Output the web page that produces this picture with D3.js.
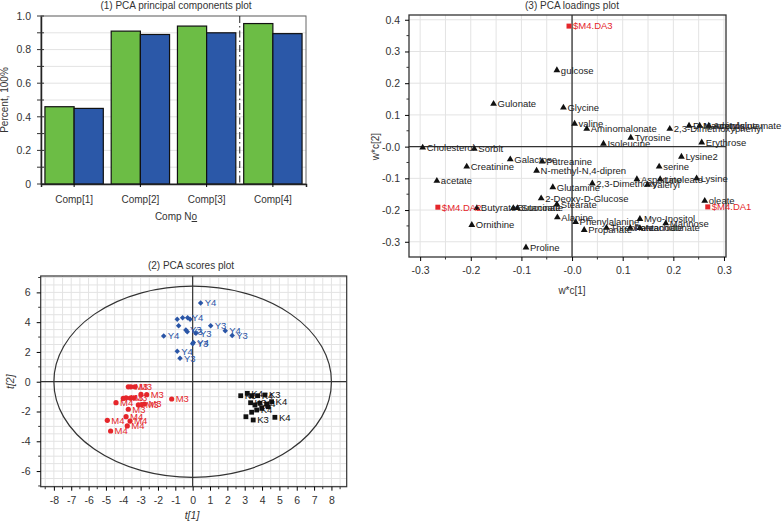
<!DOCTYPE html>
<html><head><meta charset="utf-8">
<script src="https://cdn.jsdelivr.net/npm/d3@7"></script>
<style>
body{margin:0;background:#fff;}
svg{display:block;font-family:"Liberation Sans",Arial,sans-serif;}
</style></head>
<body><svg id="c" width="784" height="522"></svg>
<script>
// ---------- Panel 1 data ----------
const pcCategories = ["Comp[1]","Comp[2]","Comp[3]","Comp[4]"];
const r2xCum = [0.46, 0.91, 0.94, 0.955];
const q2Cum  = [0.45, 0.89, 0.90, 0.895];
const pcYTicks = [0,0.2,0.4,0.6,0.8,1.0];

// ---------- Panel 2 data (scores) ----------
const yT1 = [0.46,-0.89,-0.58,-0.29,-0.15,-0.81,-0.39,-0.31,0.19,1.04,1.88,2.28,-1.67,0.04,0.0,-0.89,-0.73];
const yT2 = [5.28,4.19,4.30,4.30,4.20,3.76,3.47,3.36,3.25,3.76,3.42,3.11,3.07,2.64,2.55,2.04,1.57];
const yLab = ["Y4","","","Y4","","","Y3","Y3","Y3","Y3","Y4","Y3","Y4","Y4","Y3","Y4","Y3"];
const mT1 = [-3.71,-3.56,-3.33,-2.65,-2.98,-1.21,-4.0,-3.84,-3.6,-3.4,-4.42,-3.71,-3.13,-2.94,-2.78,-3.84,-3.61,-4.92,-3.77,-4.73];
const mT2 = [-0.34,-0.34,-0.34,-0.87,-0.85,-1.16,-1.12,-1.08,-1.10,-1.08,-1.41,-1.85,-1.56,-1.53,-1.50,-2.35,-2.64,-2.59,-2.97,-3.31];
const mLab = ["","M3","M3","M3","","M3","","M3","M3","","M4","M3","","M3","M3","M4","M4","M4","M4","M4"];
const kT1 = [3.15,2.77,3.40,3.75,4.17,3.34,3.59,3.88,4.27,4.55,3.69,3.40,3.07,3.49,4.74,3.98,4.36];
const kT2 = [-0.78,-0.94,-0.94,-0.94,-0.89,-1.41,-1.56,-1.45,-1.50,-1.34,-1.90,-2.05,-2.35,-2.57,-2.39,-1.79,-1.68];
const kLab = ["K4","K3","","K4","K3","K3","","K4","","K4","K4","","","K3","K4","",""];
const scoreXTicks = [-8,-7,-6,-5,-4,-3,-2,-1,0,1,2,3,4,5,6,7,8];
const scoreYTicks = [-6,-4,-2,0,2,4,6];

// ---------- Panel 3 data (loadings) ----------
const loadNames = ["gulcose","Gulonate","Glycine","valine","Aminomalonate","Tyrosine","Isoleucine",
 "2,3-Dimethoxyphenyl","D-Mannitol","N-Acetylglutamate","Adenosine","Erythrose","Cholesterol","Sorbit",
 "Galactose","Putreanine","N-methyl-N,4-dipren","Creatinine","acetate","Lysine2","serine",
 "Aspartate","Linoleate","Lysine","2,3-Dimethoxy","Valeryl","Glutamine","2-Deoxy-D-Glucose","Stearate",
 "Butyrate","Butanoate","Succinate","Ornithine","Proline","Alanine","Phenylalanine","Propanate",
 "Threonate","Pentanoate","Arachidonate","Myo-Inositol","Mannose","oleate"];
const loadX = [-0.030,-0.155,-0.017,0.005,0.029,0.116,0.062,
 0.193,0.231,0.252,0.270,0.256,-0.295,-0.193,
 -0.122,-0.059,-0.070,-0.208,-0.267,0.216,0.172,
 0.128,0.174,0.246,0.040,0.149,-0.038,-0.061,-0.030,
 -0.188,-0.116,-0.108,-0.198,-0.091,-0.029,0.007,0.024,
 0.068,0.115,0.134,0.134,0.185,0.262];
const loadY = [0.241,0.135,0.123,0.072,0.056,0.028,0.009,
 0.056,0.066,0.066,0.066,0.013,-0.003,-0.007,
 -0.040,-0.047,-0.076,-0.063,-0.108,-0.032,-0.063,
 -0.103,-0.103,-0.100,-0.116,-0.120,-0.128,-0.163,-0.182,
 -0.194,-0.194,-0.194,-0.247,-0.318,-0.223,-0.238,-0.263,
 -0.256,-0.256,-0.257,-0.228,-0.242,-0.171];
const dummyNames = ["$M4.DA3","$M4.DA2","$M4.DA1"];
const dummyX = [-0.006,-0.265,0.268];
const dummyY = [0.380,-0.191,-0.190];
const loadXTicks = [-0.3,-0.2,-0.1,0,0.1,0.2,0.3];
const loadYTicks = [-0.3,-0.2,-0.1,0,0.1,0.2,0.3,0.4];

const svg = d3.select("#c");
const GRID = "#e3e3e3";
const GREEN = "#6cbd45", BLUE = "#2b58a8", RED = "#e5262b", PBLUE = "#2a55a6";
const hy = s => String(s).replace("\u2212","-");

// ================= Panel 1 =================
{
  const x = d3.scaleBand().domain(pcCategories).range([41,306]).paddingInner(0).paddingOuter(0);
  const sub = d3.scaleBand().domain(["r2","q2"]).range([0,x.bandwidth()]).paddingInner(0).paddingOuter(0.135);
  const y = d3.scaleLinear().domain([0,1]).range([184,16]);
  const g = svg.append("g");
  g.selectAll("line.gr").data(d3.range(1,11).map(i=>i/10)).join("line")
    .attr("x1",41).attr("x2",306).attr("y1",d=>y(d)).attr("y2",d=>y(d))
    .attr("stroke",GRID).attr("stroke-width",1);
  g.append("rect").attr("x",41).attr("y",16).attr("width",265).attr("height",168)
    .attr("fill","none").attr("stroke","#666").attr("stroke-width",1);
  const grp = g.selectAll("g.bar").data(pcCategories).join("g").attr("transform",d=>`translate(${x(d)},0)`);
  grp.append("rect").attr("x",sub("r2")).attr("width",sub.bandwidth())
    .attr("y",(d,i)=>y(r2xCum[i])).attr("height",(d,i)=>y(0)-y(r2xCum[i]))
    .attr("fill",GREEN).attr("stroke","#111").attr("stroke-width",1.2);
  grp.append("rect").attr("x",sub("q2")).attr("width",sub.bandwidth())
    .attr("y",(d,i)=>y(q2Cum[i])).attr("height",(d,i)=>y(0)-y(q2Cum[i]))
    .attr("fill",BLUE).attr("stroke","#111").attr("stroke-width",1.2);
  const sx = x("Comp[4]");
  g.append("line").attr("x1",sx).attr("x2",sx).attr("y1",16).attr("y2",184)
    .attr("stroke","#222").attr("stroke-width",1).attr("stroke-dasharray","7,3,1.5,3");
  const ya = g.append("g").attr("transform","translate(41,0)")
    .call(d3.axisLeft(y).tickValues(pcYTicks).tickFormat(d=>d===0?"0":d3.format(".1f")(d)).tickSize(0).tickPadding(10));
  ya.select(".domain").attr("stroke","#222").attr("stroke-width",1.5);
  ya.selectAll("text").attr("font-size",10.5).attr("fill","#333").attr("font-family","Liberation Sans, Arial");
  g.selectAll("line.yt").data(d3.range(0,11).map(i=>i/10)).join("line")
    .attr("x1",37).attr("x2",44).attr("y1",d=>y(d)).attr("y2",d=>y(d)).attr("stroke","#333");
  const xa = g.append("g").attr("transform","translate(0,184)")
    .call(d3.axisBottom(x).tickSize(3).tickPadding(9));
  xa.select(".domain").attr("stroke","#222").attr("stroke-width",1.5);
  xa.selectAll("text").attr("font-size",10).attr("fill","#333").attr("font-family","Liberation Sans, Arial");
  g.append("text").attr("x",176).attr("y",9).attr("text-anchor","middle").attr("font-size",10).attr("fill","#333")
    .text("(1) PCA principal components plot");
  const xl = g.append("text").attr("x",176).attr("y",220).attr("text-anchor","middle").attr("font-size",10).attr("fill","#333");
  xl.append("tspan").text("Comp N");
  xl.append("tspan").attr("text-decoration","underline").text("o");
  g.append("text").attr("transform","translate(8,100) rotate(-90)").attr("text-anchor","middle")
    .attr("font-size",10).attr("fill","#333").text("Percent, 100%");
}

// ================= Panel 2 =================
{
  const L=40.7,R=346.7,T=276,B=486.7;
  const x = d3.scaleLinear().domain([-8.76,8.88]).range([L,R]);
  const y = d3.scaleLinear().domain([-7.05,7.1]).range([B,T]);
  const g = svg.append("g");
  const gx = d3.range(-17,18).map(i=>i*0.5).filter(v=>x(v)>L && x(v)<R);
  const gy = d3.range(-14,15).map(i=>i*0.5).filter(v=>y(v)>T && y(v)<B);
  g.selectAll("line.gx").data(gx).join("line").attr("x1",d=>x(d)).attr("x2",d=>x(d)).attr("y1",T).attr("y2",B)
    .attr("stroke",GRID);
  g.selectAll("line.gy").data(gy).join("line").attr("y1",d=>y(d)).attr("y2",d=>y(d)).attr("x1",L).attr("x2",R)
    .attr("stroke",GRID);
  g.append("rect").attr("x",L).attr("y",T).attr("width",R-L).attr("height",B-T)
    .attr("fill","none").attr("stroke","#333").attr("stroke-width",1.2);
  g.append("line").attr("x1",x(0)).attr("x2",x(0)).attr("y1",T).attr("y2",B).attr("stroke","#333").attr("stroke-width",1.2);
  g.append("line").attr("y1",y(0)).attr("y2",y(0)).attr("x1",L).attr("x2",R).attr("stroke","#333").attr("stroke-width",1.2);
  g.append("ellipse").attr("cx",x(0)).attr("cy",y(0)).attr("rx",x(8)-x(0)).attr("ry",y(0)-y(6.42))
    .attr("fill","none").attr("stroke","#333").attr("stroke-width",1.2);
  const xa = g.append("g").attr("transform",`translate(0,${B})`)
    .call(d3.axisBottom(x).tickValues(scoreXTicks).tickSize(4).tickPadding(6).tickFormat(d=>hy(d3.format("d")(d))));
  xa.select(".domain").remove();
  xa.selectAll("text").attr("font-size",10.5).attr("fill","#333").attr("font-family","Liberation Sans, Arial");
  g.selectAll("line.xm").data(d3.range(-17,18).map(i=>i*0.5).filter(v=>v%1!==0 && x(v)>L && x(v)<R)).join("line")
    .attr("x1",d=>x(d)).attr("x2",d=>x(d)).attr("y1",B).attr("y2",B+2.5).attr("stroke","#333");
  const ya = g.append("g").attr("transform",`translate(${L},0)`)
    .call(d3.axisLeft(y).tickValues(scoreYTicks).tickSize(4).tickPadding(6).tickFormat(d=>hy(d3.format("d")(d))));
  ya.select(".domain").remove();
  ya.selectAll("text").attr("font-size",10.5).attr("fill","#333").attr("font-family","Liberation Sans, Arial");
  g.selectAll("line.ym").data(d3.range(-7,8).filter(v=>v%2!==0)).join("line")
    .attr("x1",L-2.5).attr("x2",L).attr("y1",d=>y(d)).attr("y2",d=>y(d)).attr("stroke","#333");
  g.append("text").attr("x",191).attr("y",269).attr("text-anchor","middle").attr("font-size",10).attr("fill","#333")
    .text("(2) PCA scores plot");
  g.append("text").attr("x",192).attr("y",519).attr("text-anchor","middle").attr("font-size",10.5).attr("fill","#333")
    .attr("font-style","italic").text("t[1]");
  g.append("text").attr("transform",`translate(14,${y(0)}) rotate(-90)`).attr("text-anchor","middle")
    .attr("font-size",10.5).attr("fill","#333").attr("font-style","italic").text("t[2]");
  const lab = (sel,col)=>sel.attr("font-size",9.5).attr("fill",col).attr("dy","0.35em");
  g.selectAll("circle.m").data(mT1).join("circle").attr("cx",d=>x(d)).attr("cy",(d,i)=>y(mT2[i])).attr("r",2.6).attr("fill",RED);
  lab(g.selectAll("text.m").data(mT1).join("text").attr("x",d=>x(d)+4).attr("y",(d,i)=>y(mT2[i])).text((d,i)=>mLab[i]),RED);
  g.selectAll("rect.k").data(kT1).join("rect").attr("x",d=>x(d)-2.4).attr("y",(d,i)=>y(kT2[i])-2.4)
    .attr("width",4.8).attr("height",4.8).attr("fill","#111");
  lab(g.selectAll("text.k").data(kT1).join("text").attr("x",d=>x(d)+4).attr("y",(d,i)=>y(kT2[i])).text((d,i)=>kLab[i]),"#111");
  g.selectAll("path.y").data(yT1).join("path").attr("d",d3.symbol(d3.symbolSquare,15))
    .attr("transform",(d,i)=>`translate(${x(d)},${y(yT2[i])}) rotate(45)`).attr("fill",PBLUE);
  lab(g.selectAll("text.y").data(yT1).join("text").attr("x",d=>x(d)+4).attr("y",(d,i)=>y(yT2[i])).text((d,i)=>yLab[i]),PBLUE);
}

// ================= Panel 3 =================
{
  const L=409,R=726,T=15,B=257;
  const x = d3.scaleLinear().domain([-0.322,0.304]).range([L,R]);
  const y = d3.scaleLinear().domain([-0.348,0.415]).range([B,T]);
  const g = svg.append("g");
  const gx = d3.range(-6,7).map(i=>i*0.05).filter(v=>x(v)>L && x(v)<R);
  const gy = d3.range(-3,5).map(i=>i*0.1);
  g.selectAll("line.gx").data(gx).join("line").attr("x1",d=>x(d)).attr("x2",d=>x(d)).attr("y1",T).attr("y2",B).attr("stroke",GRID);
  g.selectAll("line.gy").data(gy).join("line").attr("y1",d=>y(d)).attr("y2",d=>y(d)).attr("x1",L).attr("x2",R).attr("stroke",GRID);
  g.append("rect").attr("x",L).attr("y",T).attr("width",R-L).attr("height",B-T)
    .attr("fill","none").attr("stroke","#333").attr("stroke-width",1.3);
  g.append("line").attr("x1",x(0)).attr("x2",x(0)).attr("y1",T).attr("y2",B).attr("stroke","#333").attr("stroke-width",1.3);
  g.append("line").attr("y1",y(0)).attr("y2",y(0)).attr("x1",L).attr("x2",R).attr("stroke","#333").attr("stroke-width",1.3);
  const fmt = d=>Math.abs(d)<1e-9?"-0.0":hy(d3.format(".1f")(d));
  const xa = g.append("g").attr("transform",`translate(0,${B})`)
    .call(d3.axisBottom(x).tickValues(loadXTicks).tickSize(4).tickPadding(6).tickFormat(fmt));
  xa.select(".domain").remove();
  xa.selectAll("text").attr("font-size",10.5).attr("fill","#333").attr("font-family","Liberation Sans, Arial");
  g.selectAll("line.xm").data(gx.filter(v=>Math.abs(v*10-Math.round(v*10))>0.01)).join("line")
    .attr("x1",d=>x(d)).attr("x2",d=>x(d)).attr("y1",B).attr("y2",B+2.5).attr("stroke","#333");
  const ya = g.append("g").attr("transform",`translate(${L},0)`)
    .call(d3.axisLeft(y).tickValues(loadYTicks).tickSize(4).tickPadding(5).tickFormat(fmt));
  ya.select(".domain").remove();
  ya.selectAll("text").attr("font-size",10.5).attr("fill","#333").attr("font-family","Liberation Sans, Arial");
  g.selectAll("line.ym").data(d3.range(-6,9).map(i=>i*0.05).filter(v=>Math.abs(v*10-Math.round(v*10))>0.01)).join("line")
    .attr("x1",L-2.5).attr("x2",L).attr("y1",d=>y(d)).attr("y2",d=>y(d)).attr("stroke","#333");
  g.append("text").attr("x",572).attr("y",9).attr("text-anchor","middle").attr("font-size",10).attr("fill","#333")
    .text("(3) PCA loadings plot");
  g.append("text").attr("x",572).attr("y",294).attr("text-anchor","middle").attr("font-size",10).attr("fill","#333")
    .text("w*c[1]");
  g.append("text").attr("transform",`translate(379,${y(0)}) rotate(-90)`).attr("text-anchor","middle")
    .attr("font-size",10).attr("fill","#333").text("w*c[2]");
  g.selectAll("path.t").data(loadX).join("path").attr("d",d3.symbol(d3.symbolTriangle,20))
    .attr("transform",(d,i)=>`translate(${x(d)},${y(loadY[i])})`).attr("fill","#111");
  g.selectAll("text.t").data(loadX).join("text").attr("x",d=>x(d)+4).attr("y",(d,i)=>y(loadY[i])).attr("dy","0.35em")
    .attr("font-size",9.5).attr("fill","#222").text((d,i)=>loadNames[i]);
  g.selectAll("rect.d").data(dummyX).join("rect").attr("x",d=>x(d)-2.5).attr("y",(d,i)=>y(dummyY[i])-2.5)
    .attr("width",5).attr("height",5).attr("fill",RED);
  g.selectAll("text.d").data(dummyX).join("text").attr("x",d=>x(d)+4).attr("y",(d,i)=>y(dummyY[i])).attr("dy","0.35em")
    .attr("font-size",9.5).attr("fill",RED).text((d,i)=>dummyNames[i]);
}
</script></body></html>
